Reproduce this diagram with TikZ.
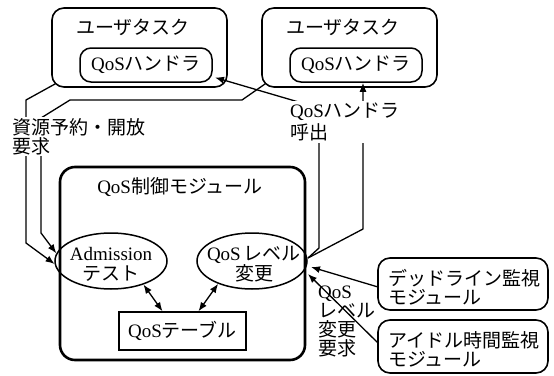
\documentclass[tikz,border=0pt]{standalone}
\usepackage{fontspec}
\setmainfont{Liberation Serif}
\newfontfamily\jp{Noto Sans CJK JP}
\usetikzlibrary{arrows.meta,shapes.geometric,calc}
\newcommand\J[1]{{\jp #1}}
\begin{document}
\begin{tikzpicture}[x=1pt,y=-1pt,
  font=\fontsize{19}{19}\selectfont,
  box/.style={draw, line width=1.6pt, rounded corners=12pt, inner sep=0pt},
  inbox/.style={draw, line width=1.5pt, rounded corners=11pt, minimum width=132pt, minimum height=34pt, inner sep=0pt},
  ell/.style={ellipse, draw, line width=1.5pt, minimum width=112pt, minimum height=56pt, inner sep=0pt},
  etext/.style={align=center, inner sep=0pt, font=\fontsize{19}{20}\selectfont},
  lbl/.style={fill=white, align=left, inner sep=1pt, anchor=west},
  con/.style={line width=1.3pt},
  arr/.style={con, -{Latex[length=9pt,width=7pt]}},
  darr/.style={con, {Latex[length=9pt,width=7pt]}-{Latex[length=9pt,width=7pt]}}
]
\useasboundingbox[fill=white] (0,0) rectangle (554,375);

% user tasks
\node[box, minimum width=175pt, minimum height=79pt] (ut1) at (139.5,47.5) {};
\node (ut1t) at (133,27) {\J{ユーザタスク}};
\node[inbox] (h1) at (146,65) {QoS\J{ハンドラ}};
\node[box, minimum width=175pt, minimum height=79pt] (ut2) at (349.5,47.5) {};
\node (ut2t) at (343,27) {\J{ユーザタスク}};
\node[inbox] (h2) at (356,65) {QoS\J{ハンドラ}};

% control module
\node[draw, line width=2.6pt, rounded corners=15pt, minimum width=245pt, minimum height=193pt] (mod) at (182.5,263.5) {};
\node (modt) at (180,187) {QoS\J{制御モジュール}};
\node[ell] (adm) at (111,261) {};
\node[etext] (admt) at (111,264) {Admission\\\J{テスト}};
\node[ell, minimum width=110pt] (lvl) at (252,261) {};
\node[etext] (lvlt) at (254,264) {QoS\,\J{レベル}\\\J{変更}};
\node[draw, line width=1.5pt, minimum width=127pt, minimum height=38pt] (tab) at (182.5,331) {QoS\J{テーブル}};

% monitors
\node[box, minimum width=170pt, minimum height=52pt] (dl) at (463,284) {};
\node[anchor=west, align=left, inner sep=0pt] (dlt) at (388,287.5) {\J{デッドライン監視}\\\J{モジュール}};
\node[box, minimum width=170pt, minimum height=53pt] (idle) at (463,346.5) {};
\node[anchor=west, align=left, inner sep=0pt] (idlet) at (388,349) {\J{アイドル時間監視}\\\J{モジュール}};

% coordinates
\coordinate (a1) at (55,84);
\coordinate (a2) at (26,100);
\coordinate (a3) at (26,243);
\coordinate (b1) at (265,84);
\coordinate (b2) at (242,100);
\coordinate (b3) at (70,100);
\coordinate (b4) at (41,118);
\coordinate (b5) at (41,233);
\coordinate (c0) at (308,258);
\coordinate (c1) at (319,248);
\coordinate (c2) at (319,108);
\coordinate (c3) at (215,77.5);
\coordinate (d1) at (363,229);
\coordinate (d2) at ($(h2.south)+(7,0)$);
\coordinate (e1) at (378,287);
\coordinate (e2) at (311,267);
\coordinate (f1) at (378,343);
\coordinate (f2) at (308,274);

% connectors
\draw[arr] (a1) -- (a2) -- (a3) -- (adm.183);
\draw[arr] (b1) -- (b2) -- (b3) -- (b4) -- (b5) -- (adm.172);
\draw[arr] (c0) -- (c1) -- (c2) -- (c3);
\draw[arr] (c0) -- (d1) -- (d2);
\draw[arr] (e1) -- (e2);
\draw[arr] (f1) -- (f2);
\draw[darr] (adm.-36) -- ($(tab.north)+(-20,0)$);
\draw[darr] (lvl.214) -- ($(tab.north)+(16,0)$);

% labels
\node[lbl] (rl) at (11,136.5) {\J{資源予約・開放}\\\J{要求}};
\node[lbl, inner sep=2pt, font=\fontsize{19}{22}\selectfont] (hl) at (288,122) {QoS\J{ハンドラ}\\\J{呼出}};
\node[anchor=west, align=left, inner sep=0pt, font=\fontsize{19}{19}\selectfont] (ql) at (318,321) {QoS\\\J{レベル}\\\J{変更}\\\J{要求}};
\end{tikzpicture}
\end{document}
